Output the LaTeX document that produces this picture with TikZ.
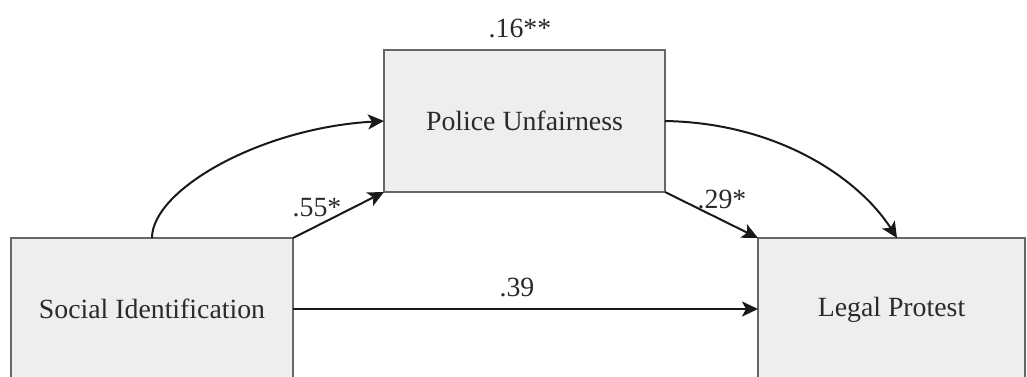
\documentclass[tikz,border=0pt]{standalone}
\usepackage{fontspec}
\setmainfont{Liberation Serif}
\usetikzlibrary{arrows.meta,calc}
\definecolor{boxfill}{HTML}{EEEEEE}
\definecolor{boxline}{HTML}{666666}
\definecolor{txt}{HTML}{2A2A2A}
\tikzset{
  varbox/.style={draw=boxline, line width=1pt, fill=boxfill, text=txt,
    font=\fontsize{13.9}{16}\selectfont, inner sep=0pt, outer sep=0pt},
  coef/.style={text=txt, font=\fontsize{13.9}{16}\selectfont, inner sep=0pt},
  conn/.style={draw=black!90, line width=1pt, -{Stealth[length=8pt,width=7.5pt,inset=2pt]}}
}
\begin{document}
\begin{tikzpicture}[x=0.5pt,y=-0.5pt]
\useasboundingbox (0,0) rectangle (1027,376);
\clip (0,0) rectangle (1027,376);
\node[varbox, minimum width=141pt, minimum height=71pt] (soc) at (152,309) {Social Identification};
\node[varbox, minimum width=140.5pt, minimum height=71pt] (pol) at (524.5,121) {Police Unfairness};
\node[varbox, minimum width=133.5pt, minimum height=72pt] (leg) at (891.5,310) {Legal Protest};
\node[coef] (c16) at (520,28) {.16**};
\node[coef] (c55) at (317,208) {.55*};
\node[coef] (c29) at (722,199) {.29*};
\node[coef] (c39) at (517,287) {.39};
\coordinate (legtop) at ($(leg.north)+(5.5,0)$);
\draw[conn] (soc.north) .. controls (152,190) and (260,128) .. (pol.west);
\draw[conn] (soc.north east) -- (pol.south west);
\draw[conn] (pol.east) .. controls (780,123) and (860,180) .. (legtop);
\draw[conn] (pol.south east) -- (leg.north west);
\draw[conn] (soc.east) -- (soc.east -| leg.west);
\end{tikzpicture}
\end{document}
